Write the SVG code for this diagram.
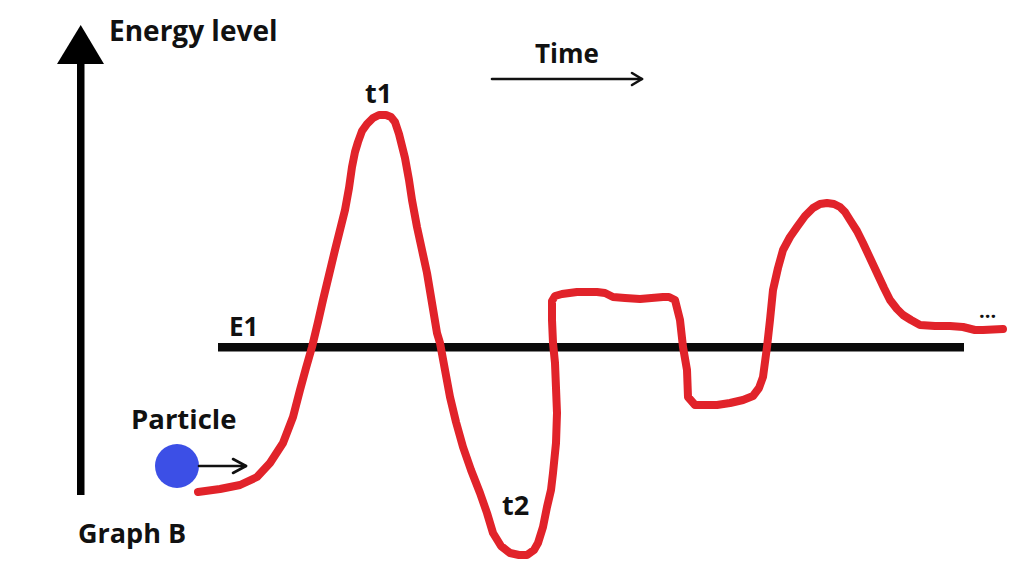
<svg xmlns="http://www.w3.org/2000/svg" width="1024" height="576" viewBox="0 0 1024 576">
<style>
.lbl{font-family:"Open Sans","Liberation Sans",sans-serif;font-weight:bold;fill:#111;}
.curve{fill:none;stroke:#e1232a;stroke-width:8;stroke-linecap:round;stroke-linejoin:round;}
.thin{fill:none;stroke:#111;stroke-width:2.6;stroke-linecap:round;stroke-linejoin:round;}
</style>
<rect width="1024" height="576" fill="#fff"/>
<g id="axis">
<rect x="77" y="60" width="7.5" height="435" fill="#000"/>
<polygon points="80.7,25 104,64 57,64" fill="#000"/>
<text class="lbl" x="109" y="41" font-size="28">Energy level</text>
</g>
<g id="time">
<text class="lbl" x="535" y="63" font-size="26">Time</text>
<line class="thin" x1="492" y1="79" x2="642" y2="79"/>
<polyline class="thin" points="632,73 642,79 632,85"/>
</g>
<g id="e1">
<rect x="218" y="343" width="746" height="8.5" fill="#0a0a0a"/>
<text class="lbl" x="229" y="336" font-size="26">E1</text>
</g>
<g id="particle">
<text class="lbl" x="131" y="429" font-size="27.5">Particle</text>
<circle cx="177" cy="466" r="22" fill="#3c4fe6"/>
<line class="thin" x1="199" y1="466" x2="246" y2="466"/>
<polyline class="thin" points="233,459 246,466 233,473"/>
</g>
<g id="labels">
<text class="lbl" x="365" y="103" font-size="27">t1</text>
<text class="lbl" x="502" y="515" font-size="27">t2</text>
<text class="lbl" x="78" y="543" font-size="27">Graph B</text>
<text class="lbl" x="979" y="318" font-size="20">...</text>
</g>
<g id="connectors">
<path class="curve" d="M198,492 L220,489 L240,485 L257,477 L270,463 L283,443 L293,417 L300,390 L306,368 L312,347 L318,322 L323,300 L329,275 L335,250 L340,230 L345,210 L349,188 L352,167 L355,152 L358,142 L362,131 L367,124 L373,118 L379,115 L386,115 L391,117 L395,122 L399,134 L405,158 L409,180 L412,200 L417,227 L422,250 L427,273 L432,303 L437,333 L440,343 L445,370 L450,397 L456,422 L463,447 L471,470 L480,493 L487,513 L493,533 L501,546 L510,553 L519,555 L527,555 L534,550 L538,543 L543,527 L547,507 L551,490 L553,473 L556,443 L557,413 L556,388 L555,363 L553,343 L552,320 L552,301 L555,296 L562,294 L577,292 L597,292 L605,293 L613,297 L625,298 L640,299 L663,297 L669,297 L675,300 L680,320 L683,347 L687,370 L688,397 L695,405 L717,405 L730,403 L743,400 L753,396 L759,388 L763,377 L767,347 L770,320 L773,290 L778,268 L783,250 L790,237 L797,227 L805,216 L813,208 L820,204 L827,203 L834,204 L840,207 L845,212 L850,220 L857,231 L863,243 L870,258 L877,273 L884,288 L890,300 L897,309 L903,315 L911,320 L920,325 L935,326 L950,326 L963,327 L975,330 L983,330 L1003,329"/>
</g>
</svg>
